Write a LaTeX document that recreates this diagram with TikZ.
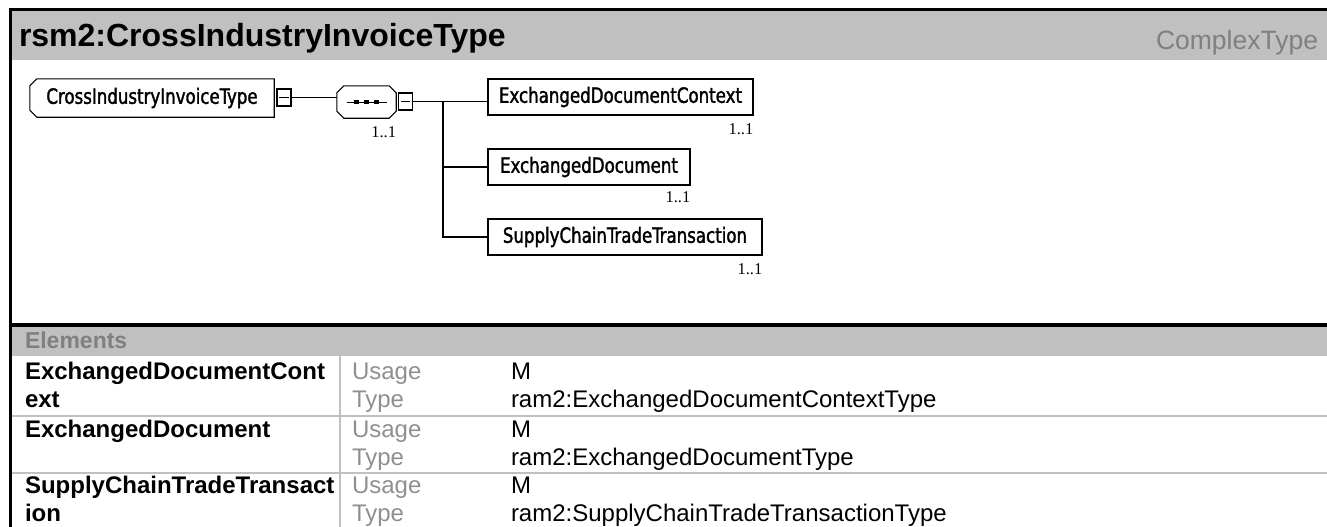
\documentclass[tikz,border=0pt]{standalone}
\usepackage{fontspec}
\setmainfont{Liberation Sans}
\newfontfamily\diagfont[FakeStretch=0.88,FakeBold=1.6]{DejaVu Sans Condensed}
\newfontfamily\numfont{Liberation Serif}
\definecolor{hdr}{HTML}{C0C0C0}
\definecolor{dim}{HTML}{808080}
\definecolor{lbl}{HTML}{8F8F8F}
\tikzset{
  txt/.style={inner sep=0pt, outer sep=0pt},
  dline/.style={draw=black, line width=1.1pt},
  elbox/.style={draw=black, line width=1.1pt, inner sep=0pt, minimum height=36pt,
     font=\diagfont\fontsize{21}{25}\selectfont},
  ctbox/.style={inner sep=0pt, minimum height=38pt, minimum width=244pt,
     font=\diagfont\fontsize{21}{25}\selectfont},
  minusbox/.style={draw=black, line width=1.1pt, inner sep=0pt, minimum width=14pt, minimum height=17pt},
  mult/.style={inner sep=0pt, anchor=north east, font=\numfont\fontsize{16.5}{19}\selectfont},
  elname/.style={txt, anchor=base west, font=\bfseries\fontsize{24}{28}\selectfont},
  prop/.style={txt, anchor=base west, text=lbl, font=\fontsize{24}{28}\selectfont},
  val/.style={txt, anchor=base west, font=\fontsize{24}{28}\selectfont},
  sepline/.style={draw=hdr, line width=2.2pt},
}
\begin{document}
\begin{tikzpicture}[x=1pt,y=-1pt]
\useasboundingbox (0,0) rectangle (1327,527);
% header and bands
\fill[hdr] (11.5,11.5) rectangle (1327,60);
\fill[hdr] (11.5,326) rectangle (1327,356);
% frame lines
\draw[black, line width=3pt] (8.5,10) -- (1327,10);
\draw[black, line width=3pt] (10,8.5) -- (10,527);
\draw[black, line width=3.5pt] (10,325) -- (1327,325);
% table separators
\draw[sepline] (11.5,416) -- (1327,416);
\draw[sepline] (11.5,473) -- (1327,473);
\draw[sepline] (340,356) -- (340,527);

% title
\node[txt, anchor=base west, font=\bfseries\fontsize{32}{37}\selectfont] (title) at (19,47) {rsm2:CrossIndustryInvoiceType};
\node[txt, anchor=base east, text=dim, font=\fontsize{26.5}{31}\selectfont] (kind) at (1318,50) {ComplexType};

% diagram
\node[ctbox] (cit) at (152,98) {CrossIndustryInvoiceType};
\draw[dline] ([xshift=7pt]cit.north west) -- (cit.north east) -- (cit.south east)
  -- ([xshift=7pt]cit.south west) -- ([yshift=7pt]cit.south west)
  -- ([yshift=-7pt]cit.north west) -- cycle;
\node[minusbox] (m1) at (284,97.5) {};
\draw[line width=1pt] ([xshift=3pt]m1.west) -- ([xshift=-3pt]m1.east);

\node[inner sep=0pt, minimum width=59pt, minimum height=32pt] (seq) at (366.5,102) {};
\draw[dline] ([xshift=7pt]seq.north west) -- ([xshift=-7pt]seq.north east)
  -- ([yshift=-7pt]seq.north east) -- ([yshift=7pt]seq.south east)
  -- ([xshift=-7pt]seq.south east) -- ([xshift=7pt]seq.south west)
  -- ([yshift=7pt]seq.south west) -- ([yshift=-7pt]seq.north west) -- cycle;
\draw[line width=1pt] ([xshift=-20pt]seq.center) -- ([xshift=20pt]seq.center);
\foreach \dx in {-10,0,10}{
  \fill ([xshift=\dx pt]seq.center) +(-2.3pt,-2.3pt) rectangle +(2.3pt,2.3pt);
}
\node[minusbox] (m2) at (405.5,101.5) {};
\draw[line width=1pt] ([xshift=3pt]m2.west) -- ([xshift=-3pt]m2.east);
\draw[dline] (m1.east) -- (m1.east -| seq.west);

\node[elbox, minimum width=265pt] (b1) at (620.5,97) {ExchangedDocumentContext};
\node[elbox, minimum width=202pt] (b2) at (589,167) {ExchangedDocument};
\node[elbox, minimum width=274pt] (b3) at (625,237) {SupplyChainTradeTransaction};
\coordinate (j) at (443,101.5);
\draw[dline] (m2.east) -- (m2.east -| b1.west);
\draw[dline] (j) -- (j |- b3.west) -- (b3.west);
\draw[dline] (j |- b2.west) -- (b2.west);

\node[mult] (l0) at ([yshift=-8pt]seq.south east) {1..1};
\node[mult] (l1) at ([yshift=-8pt]b1.south east) {1..1};
\node[mult] (l2) at ([yshift=-6pt]b2.south east) {1..1};
\node[mult] (l3) at ([yshift=-8pt]b3.south east) {1..1};

% table
\node[txt, anchor=base west, text=dim, font=\bfseries\fontsize{23}{28}\selectfont] (elh) at (25,348) {Elements};

\node[elname] (e1a) at (25,379) {ExchangedDocumentCont};
\node[elname] (e1b) at (25,407) {ext};
\node[prop] (u1) at (352,379) {Usage};
\node[prop] (t1) at (352,407) {Type};
\node[val] (v1) at (511,379) {M};
\node[val] (w1) at (511,407) {ram2:ExchangedDocumentContextType};

\node[elname] (e2a) at (25,437) {ExchangedDocument};
\node[prop] (u2) at (352,437) {Usage};
\node[prop] (t2) at (352,465) {Type};
\node[val] (v2) at (511,437) {M};
\node[val] (w2) at (511,465) {ram2:ExchangedDocumentType};

\node[elname] (e3a) at (25,493) {SupplyChainTradeTransact};
\node[elname] (e3b) at (25,521) {ion};
\node[prop] (u3) at (352,493) {Usage};
\node[prop] (t3) at (352,521) {Type};
\node[val] (v3) at (511,493) {M};
\node[val] (w3) at (511,521) {ram2:SupplyChainTradeTransactionType};
\end{tikzpicture}
\end{document}
